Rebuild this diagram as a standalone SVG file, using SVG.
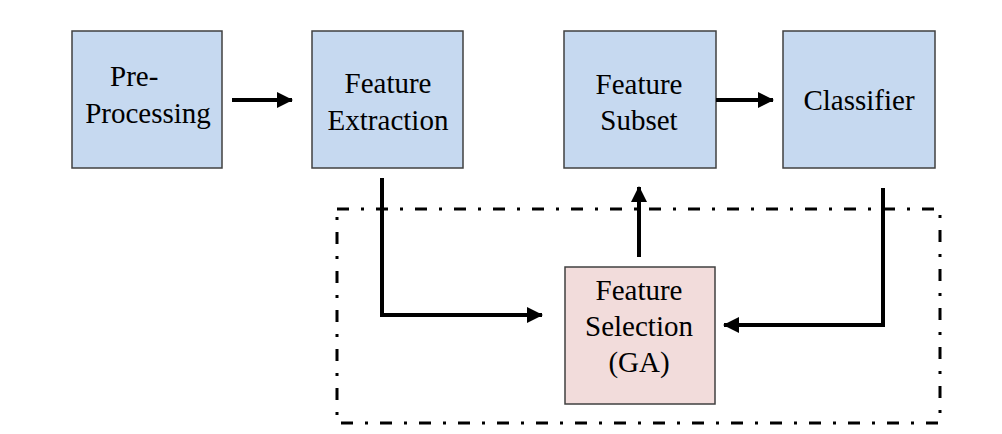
<svg xmlns="http://www.w3.org/2000/svg" width="1002" height="434" viewBox="0 0 1002 434">
<style>
.box{stroke:#404040;stroke-width:1.5}
.blue{fill:#C6D9F0}
.pink{fill:#F2DCDB}
.t{font-size:29px;fill:#000;text-anchor:middle}
.c{fill:none;stroke:#000;stroke-width:4}
.frame{fill:none;stroke:#000;stroke-width:3;stroke-dasharray:12 12 3 12}
</style>
<defs>
<marker id="ah" viewBox="0 0 16 16" refX="15" refY="8" markerWidth="16" markerHeight="16" markerUnits="userSpaceOnUse" orient="auto">
<path d="M0,0 L16,8 L0,16 Z" fill="#000"/>
</marker>
</defs>
<rect class="frame" x="337" y="209" width="603" height="214"/>
<g id="pre-processing">
<rect class="box blue" x="72" y="31" width="150" height="137"/>
<text class="t" font-family="Liberation Serif, DejaVu Serif, serif" x="110" y="86" text-anchor="start" style="text-anchor:start">Pre-</text>
<text class="t" font-family="Liberation Serif, DejaVu Serif, serif" x="148" y="123">Processing</text>
</g>
<g id="feature-extraction">
<rect class="box blue" x="312" y="31" width="151" height="137"/>
<text class="t" font-family="Liberation Serif, DejaVu Serif, serif" x="388" y="93">Feature</text>
<text class="t" font-family="Liberation Serif, DejaVu Serif, serif" x="388" y="130">Extraction</text>
</g>
<g id="feature-subset">
<rect class="box blue" x="564" y="31" width="152" height="137"/>
<text class="t" font-family="Liberation Serif, DejaVu Serif, serif" x="639" y="94">Feature</text>
<text class="t" font-family="Liberation Serif, DejaVu Serif, serif" x="639" y="130">Subset</text>
</g>
<g id="classifier">
<rect class="box blue" x="783" y="31" width="152" height="137"/>
<text class="t" font-family="Liberation Serif, DejaVu Serif, serif" x="859" y="110">Classifier</text>
</g>
<g id="feature-selection">
<rect class="box pink" x="565" y="267" width="150" height="137"/>
<text class="t" font-family="Liberation Serif, DejaVu Serif, serif" x="639" y="300">Feature</text>
<text class="t" font-family="Liberation Serif, DejaVu Serif, serif" x="639" y="336">Selection</text>
<text class="t" font-family="Liberation Serif, DejaVu Serif, serif" x="639" y="372">(GA)</text>
</g>
<g id="connectors">
<line class="c" x1="232" y1="100" x2="292" y2="100" marker-end="url(#ah)"/>
<line class="c" x1="716" y1="100" x2="773" y2="100" marker-end="url(#ah)"/>
<polyline class="c" points="382,178 382,315 542,315" marker-end="url(#ah)"/>
<polyline class="c" points="883,188 883,325 724,325" marker-end="url(#ah)"/>
<line class="c" x1="639" y1="257" x2="639" y2="187" marker-end="url(#ah)"/>
</g>
</svg>
